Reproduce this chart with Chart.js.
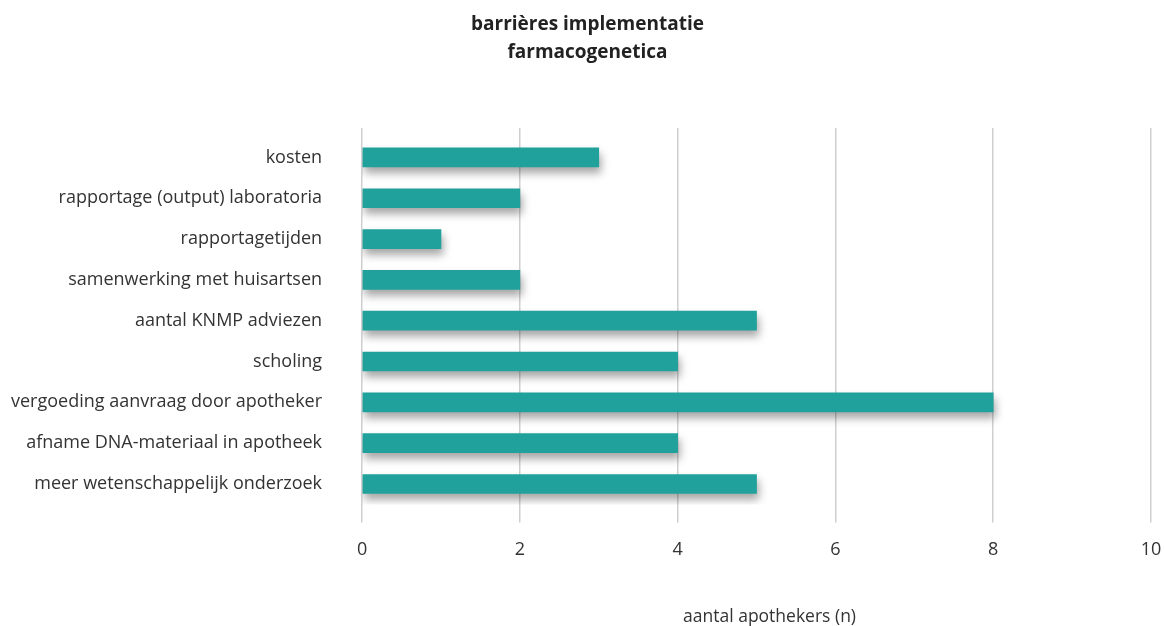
<!DOCTYPE html>
<html>
<head>
<meta charset="utf-8">
<script src="https://cdn.jsdelivr.net/npm/chart.js@4"></script>
<style>
  html, body { margin: 0; padding: 0; background: #fff; }
  #wrap { width: 1164px; height: 626px; }
</style>
</head>
<body>
<div id="wrap"><canvas id="barChart" width="1164" height="626"></canvas></div>
<script>
let categories = [
  'kosten',
  'rapportage (output) laboratoria',
  'rapportagetijden',
  'samenwerking met huisartsen',
  'aantal KNMP adviezen',
  'scholing',
  'vergoeding aanvraag door apotheker',
  'afname DNA-materiaal in apotheek',
  'meer wetenschappelijk onderzoek'
];
let apothekers = [3, 2, 1, 2, 5, 4, 8, 4, 5];
let xTicks = [0, 2, 4, 6, 8, 10];
let xTitle = 'aantal apothekers (n)';

let fontFam = '"Open Sans", "Noto Sans", sans-serif';
let textCol = '#333333';

// shadow under the bars
let barShadow = {
  id: 'barShadow',
  beforeDatasetDraw(chart) {
    let c = chart.ctx;
    c.save();
    c.shadowColor = 'rgba(0,0,0,0.35)';
    c.shadowBlur = 9;
    c.shadowOffsetX = 2;
    c.shadowOffsetY = 6;
  },
  afterDatasetDraw(chart) {
    chart.ctx.restore();
  }
};

// x axis title, sits a bit right of the plot centre in the original
let axisTitle = {
  id: 'axisTitle',
  afterDraw(chart) {
    let c = chart.ctx;
    let area = chart.chartArea;
    c.save();
    c.font = '17.5px ' + fontFam;
    c.fillStyle = textCol;
    c.textAlign = 'center';
    c.textBaseline = 'middle';
    c.fillText(xTitle, (area.left + area.right) / 2 + 13, chart.height - 9);
    c.restore();
  }
};

let ctx = document.getElementById('barChart').getContext('2d');
let chart = new Chart(ctx, {
  type: 'bar',
  data: {
    labels: categories,
    datasets: [{
      label: 'aantal apothekers',
      data: apothekers,
      backgroundColor: '#21a19b',
      borderWidth: 0,
      barThickness: 19
    }]
  },
  options: {
    indexAxis: 'y',
    responsive: false,
    animation: false,
    layout: { padding: { left: 11, right: 0, top: 0, bottom: 48 } },
    plugins: {
      legend: { display: false },
      tooltip: { enabled: false },
      title: {
        display: true,
        text: ['barrières implementatie', 'farmacogenetica'],
        color: '#222222',
        font: { family: fontFam, size: 19, weight: 'bold', lineHeight: 1.5 },
        padding: { top: 10, bottom: 61 }
      }
    },
    scales: {
      x: {
        position: 'bottom',
        min: 0,
        max: 10,
        afterBuildTicks: axis => { axis.ticks = xTicks.map(v => ({ value: v })); },
        afterFit: axis => { axis.paddingRight = 13; },
        grid: { color: '#cfcfcf', lineWidth: 1.5, drawTicks: true, tickLength: 18 },
        border: { display: false },
        ticks: { color: textCol, font: { family: fontFam, size: 18 }, padding: 17 }
      },
      xTop: {
        axis: 'x',
        position: 'top',
        min: 0,
        max: 10,
        afterBuildTicks: axis => { axis.ticks = xTicks.map(v => ({ value: v })); },
        grid: { color: '#cfcfcf', lineWidth: 1.5, drawOnChartArea: false, drawTicks: true, tickLength: 9 },
        border: { display: false },
        ticks: { display: false }
      },
      y: {
        afterFit: axis => { axis.width -= 40; },
        grid: { display: false, drawTicks: false },
        border: { display: false },
        ticks: { color: textCol, font: { family: fontFam, size: 18 }, padding: 40 }
      }
    }
  },
  plugins: [barShadow, axisTitle]
});
</script>
</body>
</html>
